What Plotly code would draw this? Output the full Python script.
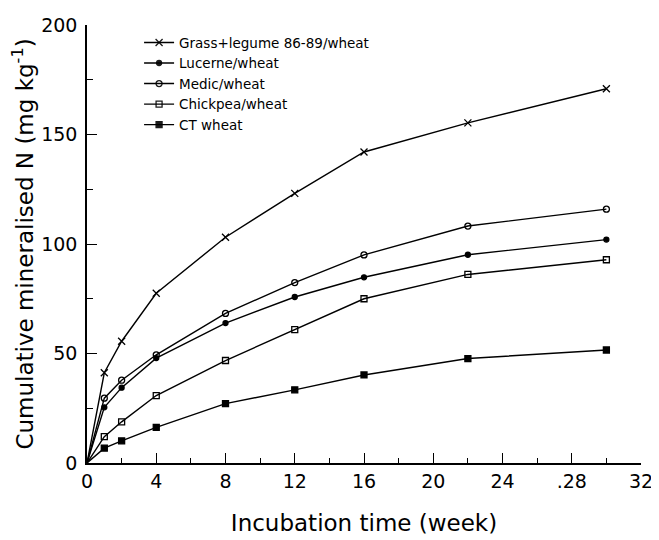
import plotly.graph_objects as go

weeks = [0, 1, 2, 4, 8, 12, 16, 22, 30]
grass_legume = [0, 41.2, 55.6, 77.5, 103.1, 123.1, 142.0, 155.3, 170.9]
lucerne = [0, 25.4, 34.4, 47.9, 63.9, 75.8, 84.8, 95.1, 102.0]
medic = [0, 29.6, 37.8, 49.4, 68.3, 82.4, 95.0, 108.2, 115.9]
chickpea = [0, 12.0, 18.8, 30.8, 46.8, 60.9, 75.0, 86.1, 92.8]
ct_wheat = [0, 6.8, 10.1, 16.3, 27.1, 33.4, 40.2, 47.7, 51.6]

x_tick_vals = [0, 4, 8, 12, 16, 20, 24, 28, 32]
x_tick_text = ["0", "4", "8", "12", "16", "20", "24", ".28", "32"]
y_tick_vals = [0, 50, 100, 150, 200]

series = [
    ("Grass+legume 86-89/wheat", grass_legume, "x-thin", 7),
    ("Lucerne/wheat", lucerne, "circle", 5),
    ("Medic/wheat", medic, "circle-open", 6),
    ("Chickpea/wheat", chickpea, "square-open", 6),
    ("CT wheat", ct_wheat, "square", 6),
]

FONT = "DejaVu Sans"
fig = go.Figure()
for name, vals, sym, size in series:
    fig.add_trace(go.Scatter(
        x=weeks, y=vals, name=name, mode="lines+markers",
        line=dict(color="black", width=1.4),
        marker=dict(symbol=sym, size=size, color="black",
                    opacity=[0] + [1] * (len(vals) - 1),
                    line=dict(color="black", width=1.3)),
    ))

# page body has an 8px margin, so the figure is sized to fit inside the window
fig.update_layout(
    width=651, height=532,
    margin=dict(l=79, r=12, t=6, b=77),
    paper_bgcolor="white", plot_bgcolor="white",
    font=dict(family=FONT, color="black", size=17),
    showlegend=True,
    legend=dict(x=0.094, y=0.995, xanchor="left", yanchor="top",
                font=dict(size=13.5, family=FONT), bgcolor="rgba(0,0,0,0)",
                tracegroupgap=0, itemwidth=30),
    xaxis=dict(range=[0, 32], tickmode="array", tickvals=x_tick_vals, ticktext=x_tick_text,
               ticks="inside", ticklen=10, tickwidth=1, tickcolor="black",
               minor=dict(ticks="inside", ticklen=5, dtick=2, tick0=0, tickcolor="black"),
               showline=True, linecolor="black", linewidth=1.5, showgrid=False, zeroline=False,
               ticklabeloverflow="allow",
               title=dict(text="Incubation time (week)", font=dict(size=23), standoff=24),
               tickfont=dict(size=19)),
    yaxis=dict(range=[0, 200], tickmode="array", tickvals=y_tick_vals,
               ticks="inside", ticklen=10, tickwidth=1, tickcolor="black",
               minor=dict(ticks="inside", ticklen=6, dtick=25, tick0=0, tickcolor="black"),
               showline=True, linecolor="black", linewidth=1.5, showgrid=False, zeroline=False,
               ticklabelstandoff=4, ticklabeloverflow="allow",
               title=dict(text="Cumulative mineralised N (mg kg<sup>-1</sup>)", font=dict(size=23), standoff=6),
               tickfont=dict(size=19)),
)
fig.write_html("out.html")
